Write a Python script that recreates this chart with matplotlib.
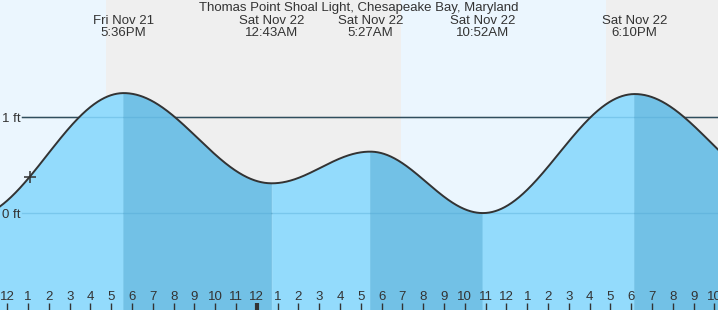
import numpy as np
import matplotlib.pyplot as plt
import matplotlib.transforms as mtransforms

# tide extremes, hours since Nov 21 00:00 (first and last are just off the chart)
extreme_times = [10.2, 17.6, 24.717, 29.45, 34.867, 42.167, 49.4]
extreme_heights = [-0.05, 1.25, 0.31, 0.64, 0.0, 1.24, 0.25]
extreme_labels = ["Fri Nov 21\n5:36PM", "Sat Nov 22\n12:43AM", "Sat Nov 22\n5:27AM",
                  "Sat Nov 22\n10:52AM", "Sat Nov 22\n6:10PM"]
night_spans = [(16.75, 30.93), (40.78, 50.0)]
hour_ticks = list(range(12, 47))
now_hour = 13.09
title = "Thomas Point Shoal Light, Chesapeake Bay, Maryland"

x_min, x_max = 11.65, 46.17
y_min, y_max = -1.01, 2.22


def tide(t):
    t = np.atleast_1d(t)
    out = np.zeros_like(t, dtype=float)
    for i in range(len(extreme_times) - 1):
        t0, t1 = extreme_times[i], extreme_times[i + 1]
        h0, h1 = extreme_heights[i], extreme_heights[i + 1]
        m = (t >= t0) & (t <= t1)
        ph = np.pi * (t[m] - t0) / (t1 - t0)
        out[m] = (h0 + h1) / 2 + (h0 - h1) / 2 * np.cos(ph)
    return out


fig = plt.figure(figsize=(7.18, 3.10), dpi=100)
ax = fig.add_axes([0, 0, 1, 1])
ax.set_xlim(x_min, x_max)
ax.set_ylim(y_min, y_max)
ax.axis('off')
font = 'Liberation Sans'
txt = '#333333'
fs = 9.5

# day / night background
ax.axvspan(x_min - 1, x_max + 1, color='#ebf6fe', zorder=0, lw=0)
for a, b in night_spans:
    ax.axvspan(a, b, color='#efefef', zorder=0, lw=0)

# grid lines (black where above water)
for lvl in [0, 1]:
    ax.axhline(lvl, xmin=22 / 718, xmax=1, color='#222222', lw=1, zorder=1)
    ax.text(x_min + 0.1, lvl - 0.02, f"{lvl} ft", ha='left', va='center', fontsize=fs,
            color=txt, family=font, zorder=5)

# water, light for rising and dark for falling tide
t = np.linspace(x_min - 0.5, x_max + 0.5, 2400)
h = tide(t)
for i in range(len(extreme_times) - 1):
    t0, t1 = extreme_times[i], extreme_times[i + 1]
    m = (t >= t0) & (t <= t1)
    col = '#72c1e6' if extreme_heights[i + 1] < extreme_heights[i] else '#93dbfc'
    ax.fill_between(t[m], y_min - 1, h[m], facecolor=col, edgecolor=col,
                    lw=0.6, zorder=2)

for lvl in [0, 1]:
    ax.axhline(lvl, xmin=22 / 718, xmax=1, color='#4aa3d0', lw=1, alpha=0.35, zorder=3)

ax.plot(t, h, color='#333333', lw=1.4, zorder=4)
ax.plot([now_hour], tide(now_hour), marker='+', ms=9, mew=1.1, color='#333333', zorder=5)

# extreme labels and title
tb = mtransforms.blended_transform_factory(ax.transData, ax.transAxes)
for tt, lab in zip(extreme_times[1:-1], extreme_labels):
    ax.text(tt, 1 - 27 / 310, lab, transform=tb, ha='center', va='center',
            fontsize=fs, color=txt, family=font, linespacing=1.0)
ax.text(0.5, 1 - 8 / 310, title, transform=ax.transAxes, ha='center', va='center',
        fontsize=fs, color=txt, family=font)

# hour ticks along the bottom
for hr in hour_ticks:
    lab = str((hr - 1) % 12 + 1)
    ax.text(hr, 13 / 310, lab, transform=tb, ha='center', va='center',
            fontsize=fs, color=txt, family=font)
    ax.plot([hr, hr], [0, 7 / 310], transform=tb, color='#333333',
            lw=3 if hr % 24 == 0 else 1, zorder=5, solid_capstyle='butt')

fig.savefig('out.png', dpi=100)
